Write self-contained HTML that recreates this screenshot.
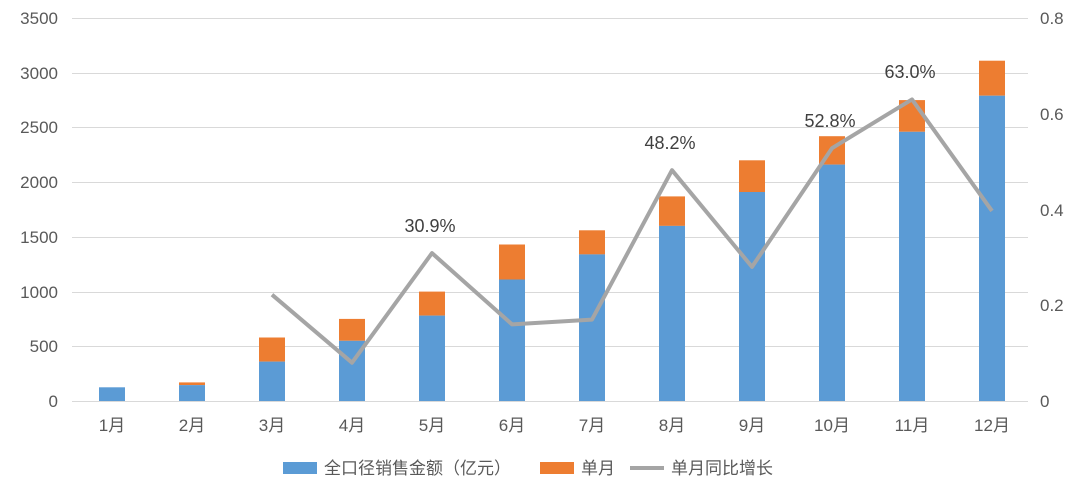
<!DOCTYPE html>
<html><head><meta charset="utf-8"><style>
body{margin:0;background:#fff;}
svg text{font-family:"Liberation Sans","Noto Sans CJK SC",sans-serif;fill:#595959;}
</style></head><body>
<svg width="1080" height="483" viewBox="0 0 1080 483" xmlns="http://www.w3.org/2000/svg">
<rect width="1080" height="483" fill="#fff"/>
<g stroke="#d9d9d9" stroke-width="1">
<line x1="72" x2="1028" y1="18.5" y2="18.5"/>
<line x1="72" x2="1028" y1="73.5" y2="73.5"/>
<line x1="72" x2="1028" y1="127.5" y2="127.5"/>
<line x1="72" x2="1028" y1="182.5" y2="182.5"/>
<line x1="72" x2="1028" y1="237.5" y2="237.5"/>
<line x1="72" x2="1028" y1="292.5" y2="292.5"/>
<line x1="72" x2="1028" y1="346.5" y2="346.5"/>
<line x1="72" x2="1028" y1="401.5" y2="401.5"/>
</g>
<g font-size="17" text-anchor="end">
<text x="58" y="24">3500</text><text x="58" y="79">3000</text><text x="58" y="133">2500</text>
<text x="58" y="188">2000</text><text x="58" y="243">1500</text><text x="58" y="298">1000</text>
<text x="58" y="352">500</text><text x="58" y="407">0</text>
</g>
<g font-size="17" text-anchor="start">
<text x="1040" y="24">0.8</text><text x="1040" y="120">0.6</text><text x="1040" y="216">0.4</text>
<text x="1040" y="311">0.2</text><text x="1040" y="407">0</text>
</g>
<g fill="#ed7d31">
<rect x="179" y="382.4" width="26" height="2.7"/>
<rect x="259" y="337.5" width="26" height="24.1"/>
<rect x="339" y="318.9" width="26" height="21.9"/>
<rect x="419" y="291.6" width="26" height="24"/>
<rect x="499" y="244.5" width="26" height="35"/>
<rect x="579" y="230.3" width="26" height="24.1"/>
<rect x="659" y="196.4" width="26" height="29.5"/>
<rect x="739" y="160.3" width="26" height="31.7"/>
<rect x="819" y="136.2" width="26" height="28.4"/>
<rect x="899" y="100.1" width="26" height="31.7"/>
<rect x="979" y="60.7" width="26" height="35"/>
</g>
<g fill="#5b9bd5">
<rect x="99" y="387.3" width="26" height="13.7"/>
<rect x="179" y="385.1" width="26" height="15.9"/>
<rect x="259" y="361.6" width="26" height="39.4"/>
<rect x="339" y="340.8" width="26" height="60.2"/>
<rect x="419" y="315.6" width="26" height="85.4"/>
<rect x="499" y="279.5" width="26" height="121.5"/>
<rect x="579" y="254.4" width="26" height="146.6"/>
<rect x="659" y="225.9" width="26" height="175.1"/>
<rect x="739" y="192" width="26" height="209"/>
<rect x="819" y="164.6" width="26" height="236.4"/>
<rect x="899" y="131.8" width="26" height="269.2"/>
<rect x="979" y="95.7" width="26" height="305.3"/>
</g>
<polyline points="272,294.7 352,362.7 432,253.1 512,324.4 592,319.6 672,170.2 752,266.9 832,148.2 912,99.4 992,210.9" fill="none" stroke="#a5a5a5" stroke-width="4" stroke-linejoin="round"/>
<g font-size="17" text-anchor="middle">
<text x="112" y="431">1月</text><text x="192" y="431">2月</text><text x="272" y="431">3月</text>
<text x="352" y="431">4月</text><text x="432" y="431">5月</text><text x="512" y="431">6月</text>
<text x="592" y="431">7月</text><text x="672" y="431">8月</text><text x="752" y="431">9月</text>
<text x="832" y="431">10月</text><text x="912" y="431">11月</text><text x="992" y="431">12月</text>
</g>
<g font-size="18" text-anchor="middle">
<text x="430" y="232" style="fill:#404040">30.9%</text>
<text x="670" y="149" style="fill:#404040">48.2%</text>
<text x="830" y="127" style="fill:#404040">52.8%</text>
<text x="910" y="78" style="fill:#404040">63.0%</text>
</g>
<g font-size="17">
<rect x="283" y="462" width="34" height="12" fill="#5b9bd5"/>
<text x="324" y="474">全口径销售金额（亿元）</text>
<rect x="540" y="462" width="34" height="12" fill="#ed7d31"/>
<text x="581" y="474">单月</text>
<line x1="630" x2="664" y1="468" y2="468" stroke="#a5a5a5" stroke-width="4"/>
<text x="671" y="474">单月同比增长</text>
</g>
</svg>
</body></html>
